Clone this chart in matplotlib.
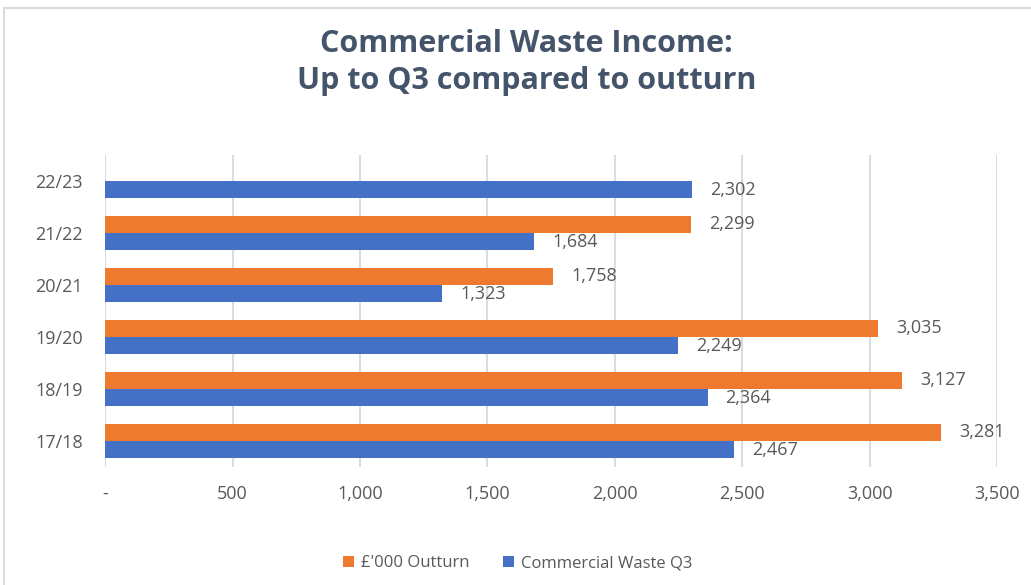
import matplotlib
matplotlib.use("Agg")
import matplotlib.pyplot as plt
from matplotlib.patches import Rectangle
from matplotlib.ticker import FuncFormatter
import numpy as np

categories = ["17/18", "18/19", "19/20", "20/21", "21/22", "22/23"]
outturn = [3281, 3127, 3035, 1758, 2299, np.nan]
q3 = [2467, 2364, 2249, 1323, 1684, 2302]
series_names = ["£'000 Outturn", "Commercial Waste Q3"]
xticks = [0, 500, 1000, 1500, 2000, 2500, 3000, 3500]

plt.rcParams['font.family'] = ['Open Sans', 'DejaVu Sans']
ORANGE = "#ED7A2E"
BLUE = "#4470C6"
GRAY = "#595959"

fig = plt.figure(figsize=(10.31, 5.85), dpi=100)
ax = fig.add_axes([0.102, 0.2017, 0.865, 0.5333])

y = np.arange(len(categories))
h = 0.33
ax.barh(y + h / 2, outturn, height=h, color=ORANGE, label=series_names[0], zorder=3)
ax.barh(y - h / 2, q3, height=h, color=BLUE, label=series_names[1], zorder=3)

for yi, v in zip(y, outturn):
    if not np.isnan(v):
        ax.annotate(f"{v:,.0f}", (v, yi + h / 2), xytext=(13, 0), textcoords="offset points",
                    va="center", ha="left", fontsize=13, color=GRAY)
for yi, v in zip(y, q3):
    ax.annotate(f"{v:,.0f}", (v, yi - h / 2), xytext=(13, 0), textcoords="offset points",
                va="center", ha="left", fontsize=13, color=GRAY)

ax.set_xlim(0, 3500)
ax.set_ylim(-0.5, 5.5)
ax.set_xticks(xticks)
ax.xaxis.set_major_formatter(FuncFormatter(lambda v, p: "-" if v == 0 else f"{v:,.0f}"))
ax.set_yticks(y)
ax.set_yticklabels(categories)
ax.tick_params(axis="both", length=0, labelsize=13, colors=GRAY)
ax.tick_params(axis="x", pad=13)
ax.tick_params(axis="y", pad=16)
ax.grid(axis="x", color="#D9DDE3", linewidth=1.5, zorder=0)
for s in ax.spines.values():
    s.set_visible(False)

title_kw = dict(ha="center", va="center", fontsize=22, fontweight="bold", color="#44546A")
fig.text(0.511, 0.924, "Commercial Waste Income:", **title_kw)
fig.text(0.511, 0.862, "Up to Q3 compared to outturn", **title_kw)

handles, labels = ax.get_legend_handles_labels()
fig.legend(handles, labels, loc="center", bbox_to_anchor=(0.502, 0.037), ncol=2, frameon=False,
           fontsize=12, labelcolor=GRAY, handlelength=0.7, handleheight=0.7,
           handletextpad=0.4, columnspacing=2.0)

fig.patches.append(Rectangle((0.004, -0.01), 1.0, 0.996, transform=fig.transFigure,
                             fill=False, edgecolor="#D9DDE3", linewidth=1.5))

fig.savefig("out.png", dpi=100)
